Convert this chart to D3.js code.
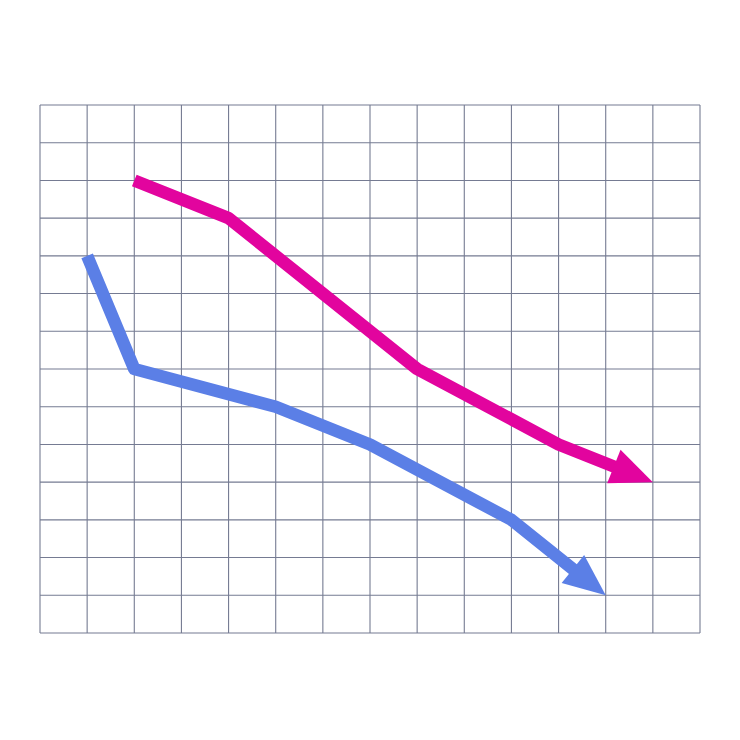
<!DOCTYPE html>
<html>
<head>
<meta charset="utf-8">
<script src="https://cdn.jsdelivr.net/npm/d3@7"></script>
<style>
  body { margin: 0; background: #fff; }
</style>
</head>
<body>
<script>
const svgWidth = 740;
const svgHeight = 740;

// grid extent (cells)
const gridCols = 14;
const gridRows = 14;

// Data: x in grid columns, y in grid units counted from the bottom
const pinkX = [2, 4, 8, 11, 13];
const pinkY = [12, 11, 7, 5, 4];
const blueX = [1, 2, 5, 7, 10, 12];
const blueY = [10, 7, 6, 5, 3, 1];

const svg = d3.select("body")
  .append("svg")
  .attr("width", svgWidth)
  .attr("height", svgHeight);

svg.append("rect")
  .attr("width", svgWidth)
  .attr("height", svgHeight)
  .attr("fill", "#fff");

const xScale = d3.scaleLinear().domain([0, gridCols]).range([40, 700]);
const yScale = d3.scaleLinear().domain([0, gridRows]).range([633, 105]);

// grid lines
const grid = svg.append("g")
  .attr("stroke", "#757b92")
  .attr("stroke-width", 1.1);

grid.selectAll("line.v")
  .data(d3.range(gridCols + 1))
  .enter()
  .append("line")
  .attr("class", "v")
  .attr("x1", d => xScale(d))
  .attr("x2", d => xScale(d))
  .attr("y1", yScale(0))
  .attr("y2", yScale(gridRows));

grid.selectAll("line.h")
  .data(d3.range(gridRows + 1))
  .enter()
  .append("line")
  .attr("class", "h")
  .attr("y1", d => yScale(d))
  .attr("y2", d => yScale(d))
  .attr("x1", xScale(0))
  .attr("x2", xScale(gridCols));

// draws a line ending in an arrowhead whose tip sits on the last point
function drawArrow(xs, ys, color) {
  const pts = xs.map((x, i) => [xScale(x), yScale(ys[i])]);
  const tip = pts[pts.length - 1];
  const prev = pts[pts.length - 2];
  const dx = tip[0] - prev[0];
  const dy = tip[1] - prev[1];
  const len = Math.sqrt(dx * dx + dy * dy);
  const ux = dx / len, uy = dy / len;
  const headLen = 42;
  const halfW = 18;
  const base = [tip[0] - ux * headLen, tip[1] - uy * headLen];

  const shaft = pts.slice(0, -1).concat([[base[0] + ux * 2, base[1] + uy * 2]]);

  svg.append("path")
    .attr("d", d3.line()(shaft))
    .attr("fill", "none")
    .attr("stroke", color)
    .attr("stroke-width", 12.5)
    .attr("stroke-linejoin", "round")
    .attr("stroke-linecap", "butt");

  const head = [
    tip,
    [base[0] - uy * halfW, base[1] + ux * halfW],
    [base[0] + uy * halfW, base[1] - ux * halfW]
  ];
  svg.append("path")
    .attr("d", d3.line()(head) + "Z")
    .attr("fill", color);
}

drawArrow(blueX, blueY, "#5b7fe6");
drawArrow(pinkX, pinkY, "#e2049e");
</script>
</body>
</html>
